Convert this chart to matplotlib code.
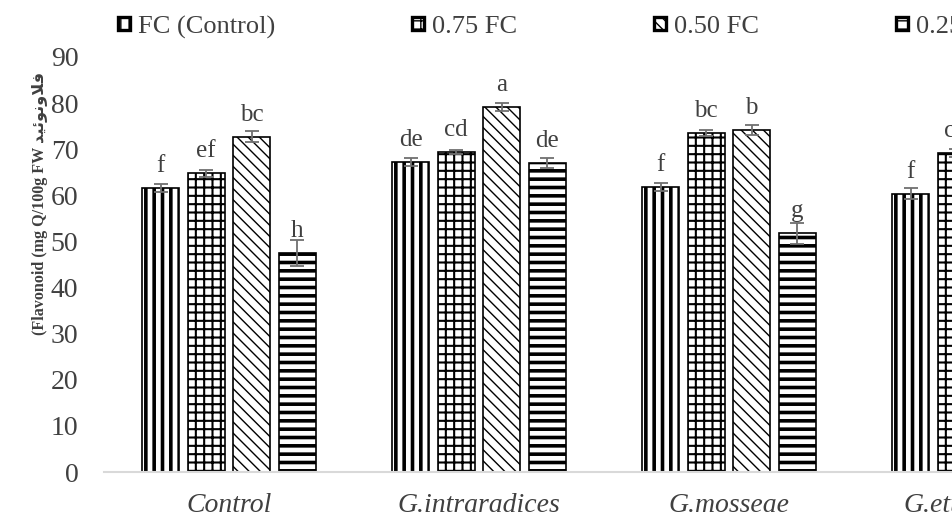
import numpy as np
import matplotlib
matplotlib.use('Agg')
import matplotlib.pyplot as plt

# data
categories = ['Control', 'G.intraradices', 'G.mosseae', 'G.etunicatum']
series_names = ['FC (Control)', '0.75 FC', '0.50 FC', '0.25 FC']
fc100 = [61.6, 67.2, 61.8, 60.3]
fc75 = [64.8, 69.4, 73.5, 69.2]
fc50 = [72.7, 79.2, 74.2, np.nan]
fc25 = [47.5, 67.0, 51.8, np.nan]
err100 = [0.9, 0.9, 0.9, 1.2]
err75 = [0.8, 0.5, 0.7, 0.8]
err50 = [1.2, 0.9, 1.1, np.nan]
err25 = [2.8, 1.0, 2.3, np.nan]
let100 = ['f', 'de', 'f', 'f']
let75 = ['ef', 'cd', 'bc', 'cd']
let50 = ['bc', 'a', 'b', '']
let25 = ['h', 'de', 'g', '']

# arabic word in visual order (presentation forms)
arabic = '\ufeaa\ufef4\ufe8b\ufeee\ufee7\ufeed\ufefc\ufed3'
ylabel = '(Flavonoid (mg Q/100g FW ' + arabic

values = [fc100, fc75, fc50, fc25]
errors = [err100, err75, err50, err25]
letters = [let100, let75, let50, let25]
hatches = ['||', '++', '\\\\\\', '--']
hatch_lw = [2.6, 1.5, 1.0, 2.6]

text_col = '#404040'
serif = ['Liberation Serif', 'DejaVu Sans']

fig = plt.figure(figsize=(9.52, 5.2), dpi=100)
ax = fig.add_axes([104 / 952, 48 / 520, 1000 / 952, 415 / 520])

x = np.arange(len(categories))
width = 0.148
step = 0.182

handles = []
for i in range(4):
    pos = x + (i - 1.5) * step
    with plt.rc_context({'hatch.linewidth': hatch_lw[i]}):
        bars = ax.bar(pos, values[i], width, color='white', edgecolor='black',
                      linewidth=1.2, hatch=hatches[i], label=series_names[i])
    for b in bars:
        if hasattr(b, 'set_hatch_linewidth'):
            b.set_hatch_linewidth(hatch_lw[i])
    handles.append(bars)
    ax.errorbar(pos, values[i], yerr=errors[i], fmt='none', ecolor='#707070',
                elinewidth=1.3, capsize=4.7, capthick=1.3)
    for xp, v, t in zip(pos, values[i], letters[i]):
        if t and not np.isnan(v):
            ax.annotate(t, (xp, v), xytext=(0, 11.5), textcoords='offset points',
                        ha='center', va='baseline', fontsize=18,
                        color=text_col, family=serif)

ax.set_xlim(-0.5, 3.5)
ax.set_ylim(0, 90)
ax.set_yticks(np.arange(0, 91, 10))
ax.set_xticks(x)
ax.set_xticklabels(categories, fontstyle='italic')
for lab in ax.get_xticklabels() + ax.get_yticklabels():
    lab.set_family(serif)
    lab.set_fontsize(20)
    lab.set_color(text_col)
ax.tick_params(axis='both', length=0)
ax.tick_params(axis='y', pad=18.5)
ax.tick_params(axis='x', pad=15)
for s in ['top', 'right', 'left']:
    ax.spines[s].set_visible(False)
ax.spines['bottom'].set_color('#d9d9d9')
ax.spines['bottom'].set_linewidth(1.5)

fig.text(40 / 952, 1 - 203 / 520, ylabel, rotation=90, ha='center', va='center',
         fontsize=11.6, fontweight='bold', color=text_col, family=serif)

leg = fig.legend(handles=handles, labels=series_names, loc='center left',
                 bbox_to_anchor=(118 / 952, 1 - 27 / 520), ncol=4, frameon=False,
                 borderpad=0, borderaxespad=0, handlelength=0.45, handleheight=0.4,
                 handletextpad=0.3, columnspacing=5.2,
                 prop={'family': serif, 'size': 19})
for t in leg.get_texts():
    t.set_color(text_col)
for h in leg.legend_handles:
    h.set_linewidth(2.4)

fig.savefig('out.png', dpi=100)
